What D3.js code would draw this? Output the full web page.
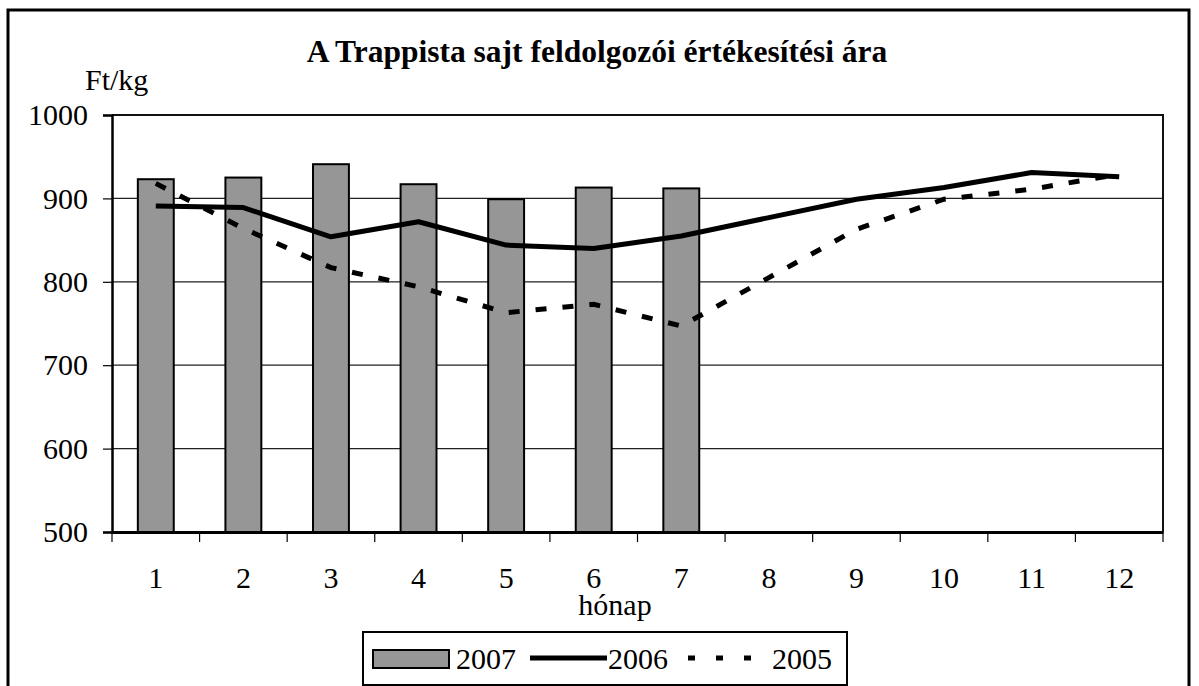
<!DOCTYPE html>
<html lang="hu">
<head>
<meta charset="UTF-8">
<title>Trappista sajt</title>
<script src="https://d3js.org/d3.v7.min.js"></script>
<style>
  body { margin: 0; background: #fff; }
  svg text { font-family: "Liberation Serif", "Times New Roman", serif; fill: #000; }
</style>
</head>
<body>
<div id="chart"></div>
<script>
// adatok
var months = [1, 2, 3, 4, 5, 6, 7, 8, 9, 10, 11, 12]
var v2007 = [923, 925, 941, 917, 899, 913, 912]
var v2006 = [891, 889, 854, 872, 844, 840, 855, 877, 899, 913, 931, 926]
var v2005 = [918, 864, 817, 794, 763, 773, 747, 805, 863, 899, 911, 929]
var yTicks = [500, 600, 700, 800, 900, 1000]

var W = 1199, H = 686
var pLeft = 112, pRight = 1163, pTop = 115, pBottom = 532
var serif = '"Liberation Serif", "Times New Roman", serif'

var svg = d3.select('#chart').append('svg')
  .attr('width', W).attr('height', H)
  .attr('font-family', serif)

// külső keret
svg.append('rect')
  .attr('x', 8).attr('y', 10).attr('width', 1181).attr('height', 690)
  .attr('fill', 'none').attr('stroke', '#000').attr('stroke-width', 3)

var x = d3.scaleBand().domain(months).range([pLeft, pRight])
var y = d3.scaleLinear().domain([500, 1000]).range([pBottom, pTop])
var bw = x.bandwidth()
var barW = bw * 0.41

// rácsvonalak
svg.append('g').selectAll('line')
  .data(yTicks.filter(d => d > 500 && d < 1000))
  .enter().append('line')
  .attr('x1', pLeft).attr('x2', pRight)
  .attr('y1', d => y(d)).attr('y2', d => y(d))
  .attr('stroke', '#222').attr('stroke-width', 1.2)

// plot keret (felső, jobb)
svg.append('path')
  .attr('d', `M${pLeft},${pTop}H${pRight}V${pBottom}`)
  .attr('fill', 'none').attr('stroke', '#111').attr('stroke-width', 2)

// y tengely
var yAxis = svg.append('g')
  .attr('transform', `translate(${pLeft},0)`)
  .call(d3.axisLeft(y).tickValues(yTicks).tickSize(9).tickPadding(15).tickFormat(d3.format('d')))
yAxis.select('.domain').attr('stroke-width', 2.5)
yAxis.selectAll('.tick line').attr('stroke-width', 1.2)
yAxis.selectAll('text').style('font-size', '30px').style('font-family', serif)

// x tengely: osztások a sávhatárokon
var xAxis = svg.append('g')
  .attr('transform', `translate(0,${pBottom})`)
  .call(d3.axisBottom(x).tickSize(0).tickPadding(35))
xAxis.select('.domain').attr('stroke-width', 3)
xAxis.selectAll('text').style('font-size', '30px').style('font-family', serif)
xAxis.append('g').selectAll('line')
  .data(months.concat([13]))
  .enter().append('line')
  .attr('x1', d => d <= 12 ? x(d) : pRight).attr('x2', d => d <= 12 ? x(d) : pRight)
  .attr('y1', 0).attr('y2', 10)
  .attr('stroke', '#000').attr('stroke-width', 1.2)

// oszlopok 2007
svg.append('g').selectAll('rect')
  .data(v2007)
  .enter().append('rect')
  .attr('x', (d, i) => x(months[i]) + bw / 2 - barW / 2)
  .attr('y', d => y(d))
  .attr('width', barW)
  .attr('height', d => pBottom - y(d))
  .attr('fill', '#969696').attr('stroke', '#000').attr('stroke-width', 2)

var line = d3.line()
  .x((d, i) => x(months[i]) + bw / 2)
  .y(d => y(d))

svg.append('path')
  .attr('d', line(v2005))
  .attr('fill', 'none').attr('stroke', '#000').attr('stroke-width', 5)
  .attr('stroke-dasharray', '11,16')

svg.append('path')
  .attr('d', line(v2006))
  .attr('fill', 'none').attr('stroke', '#000').attr('stroke-width', 5)
  .attr('stroke-linejoin', 'round')

// feliratok
svg.append('text')
  .attr('x', 597).attr('y', 62).attr('text-anchor', 'middle')
  .style('font-size', '31.5px').style('font-weight', 'bold')
  .text('A Trappista sajt feldolgozói értékesítési ára')

svg.append('text')
  .attr('x', 85).attr('y', 90)
  .style('font-size', '30px')
  .text('Ft/kg')

svg.append('text')
  .attr('x', 615).attr('y', 615).attr('text-anchor', 'middle')
  .style('font-size', '30px')
  .text('hónap')

// jelmagyarázat
var lg = svg.append('g')
lg.append('rect')
  .attr('x', 363).attr('y', 632).attr('width', 484).attr('height', 53)
  .attr('fill', '#fff').attr('stroke', '#000').attr('stroke-width', 2)
lg.append('rect')
  .attr('x', 373).attr('y', 650).attr('width', 76).attr('height', 18)
  .attr('fill', '#969696').attr('stroke', '#000').attr('stroke-width', 2)
lg.append('text').attr('x', 456).attr('y', 669).style('font-size', '30px').text('2007')
lg.append('line')
  .attr('x1', 530).attr('x2', 607).attr('y1', 658).attr('y2', 658)
  .attr('stroke', '#000').attr('stroke-width', 5)
lg.append('text').attr('x', 608).attr('y', 669).style('font-size', '30px').text('2006')
lg.append('line')
  .attr('x1', 688).attr('x2', 758).attr('y1', 658).attr('y2', 658)
  .attr('stroke', '#000').attr('stroke-width', 5)
  .attr('stroke-dasharray', '7,21')
lg.append('text').attr('x', 772).attr('y', 669).style('font-size', '30px').text('2005')
</script>
</body>
</html>
